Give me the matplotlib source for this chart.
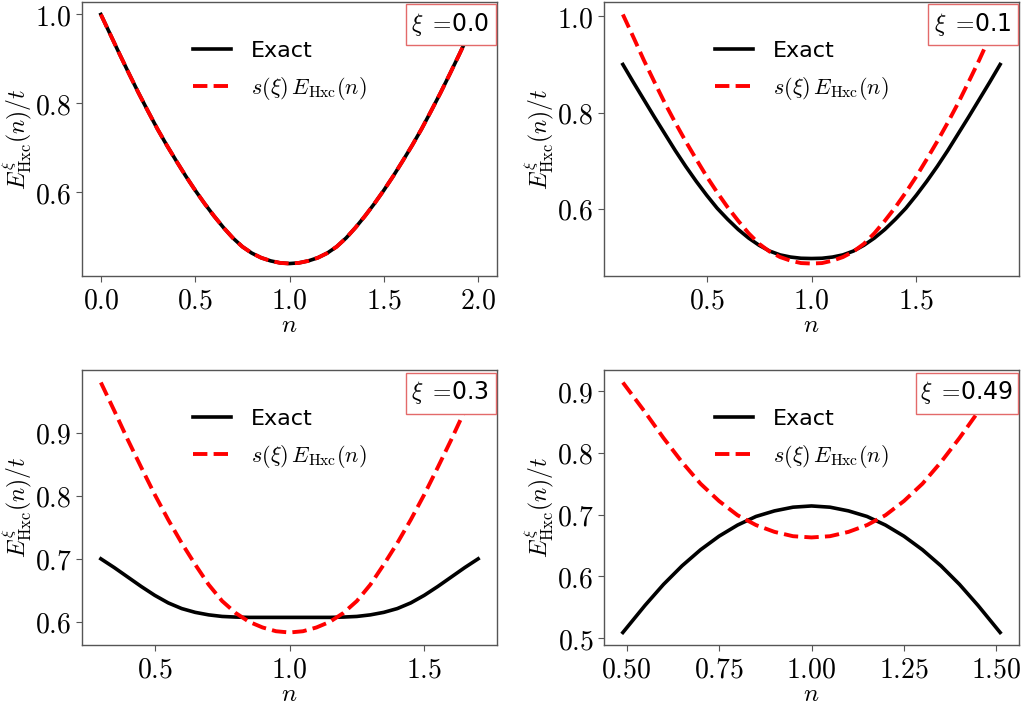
import matplotlib
matplotlib.use('Agg')
import matplotlib.pyplot as plt
from matplotlib.ticker import FormatStrFormatter
from matplotlib.patches import Rectangle

plt.rcParams['mathtext.fontset'] = 'cm'
plt.rcParams['font.family'] = 'DejaVu Sans'

# xi = 0.0 (exact and scaled curves coincide)
n_00 = [0.00, 0.05, 0.10, 0.15, 0.20, 0.25, 0.30, 0.35, 0.40, 0.45, 0.50,
        0.55, 0.60, 0.65, 0.70, 0.75, 0.80, 0.85, 0.90, 0.95, 1.00,
        1.05, 1.10, 1.15, 1.20, 1.25, 1.30, 1.35, 1.40, 1.45, 1.50,
        1.55, 1.60, 1.65, 1.70, 1.75, 1.80, 1.85, 1.90, 1.95, 2.00]
exact_00 = [1.000, 0.955, 0.910, 0.866, 0.823, 0.782, 0.742, 0.705, 0.670, 0.636, 0.604,
            0.574, 0.546, 0.520, 0.4965, 0.477, 0.4625, 0.452, 0.445, 0.4405, 0.439,
            0.4405, 0.445, 0.452, 0.4625, 0.477, 0.4965, 0.520, 0.546, 0.574, 0.604,
            0.636, 0.670, 0.705, 0.742, 0.782, 0.823, 0.866, 0.910, 0.955, 1.000]
scaled_00 = [1.000, 0.955, 0.910, 0.866, 0.823, 0.782, 0.742, 0.705, 0.670, 0.636, 0.604,
             0.574, 0.546, 0.520, 0.4965, 0.477, 0.4625, 0.452, 0.445, 0.4405, 0.439,
             0.4405, 0.445, 0.452, 0.4625, 0.477, 0.4965, 0.520, 0.546, 0.574, 0.604,
             0.636, 0.670, 0.705, 0.742, 0.782, 0.823, 0.866, 0.910, 0.955, 1.000]

# xi = 0.1
n_01 = [0.10, 0.15, 0.20, 0.25, 0.30, 0.35, 0.40, 0.45, 0.50, 0.55,
        0.60, 0.65, 0.70, 0.75, 0.80, 0.85, 0.90, 0.95, 1.00,
        1.05, 1.10, 1.15, 1.20, 1.25, 1.30, 1.35, 1.40, 1.45,
        1.50, 1.55, 1.60, 1.65, 1.70, 1.75, 1.80, 1.85, 1.90]
exact_01 = [0.900, 0.863, 0.827, 0.791, 0.756, 0.721, 0.688, 0.657, 0.628, 0.601,
            0.578, 0.557, 0.539, 0.524, 0.512, 0.504, 0.4995, 0.497, 0.4965,
            0.497, 0.4995, 0.504, 0.512, 0.524, 0.539, 0.557, 0.578, 0.601,
            0.628, 0.657, 0.688, 0.721, 0.756, 0.791, 0.827, 0.863, 0.900]
scaled_01 = [1.004, 0.957, 0.909, 0.864, 0.820, 0.779, 0.740, 0.703, 0.667, 0.634,
             0.603, 0.575, 0.549, 0.527, 0.511, 0.4995, 0.492, 0.487, 0.486,
             0.487, 0.492, 0.4995, 0.511, 0.527, 0.549, 0.575, 0.603, 0.634,
             0.667, 0.703, 0.740, 0.779, 0.820, 0.864, 0.909, 0.957, 1.004]

# xi = 0.3
n_03 = [0.30, 0.35, 0.40, 0.45, 0.50, 0.55, 0.60, 0.65, 0.70, 0.75, 0.80, 0.85, 0.90, 0.95, 1.00,
        1.05, 1.10, 1.15, 1.20, 1.25, 1.30, 1.35, 1.40, 1.45, 1.50, 1.55, 1.60, 1.65, 1.70]
exact_03 = [0.700, 0.686, 0.671, 0.656, 0.642, 0.630, 0.621, 0.615, 0.611, 0.6085, 0.6075, 0.607, 0.607, 0.607, 0.607,
            0.607, 0.607, 0.607, 0.6075, 0.6085, 0.611, 0.615, 0.621, 0.630, 0.642, 0.656, 0.671, 0.686, 0.700]
scaled_03 = [0.980, 0.935, 0.889, 0.845, 0.802, 0.762, 0.725, 0.691, 0.659, 0.633, 0.614, 0.600, 0.591, 0.585, 0.583,
             0.585, 0.591, 0.600, 0.614, 0.633, 0.659, 0.691, 0.725, 0.762, 0.802, 0.845, 0.889, 0.935, 0.980]

# xi = 0.49
n_049 = [0.49, 0.55, 0.60, 0.65, 0.70, 0.75, 0.80, 0.85, 0.90, 0.95, 1.00,
         1.05, 1.10, 1.15, 1.20, 1.25, 1.30, 1.35, 1.40, 1.45, 1.51]
exact_049 = [0.509, 0.553, 0.587, 0.617, 0.643, 0.665, 0.683, 0.697, 0.706, 0.712, 0.714,
             0.712, 0.706, 0.697, 0.683, 0.665, 0.643, 0.617, 0.587, 0.553, 0.509]
scaled_049 = [0.914, 0.866, 0.824, 0.785, 0.750, 0.722, 0.699, 0.683, 0.672, 0.665, 0.663,
              0.665, 0.672, 0.683, 0.699, 0.722, 0.750, 0.785, 0.824, 0.866, 0.914]

xi_labels = ['0.0', '0.1', '0.3', '0.49']
n_values = [n_00, n_01, n_03, n_049]
exact_values = [exact_00, exact_01, exact_03, exact_049]
scaled_values = [scaled_00, scaled_01, scaled_03, scaled_049]
x_ticks = [[0.0, 0.5, 1.0, 1.5, 2.0], [0.5, 1.0, 1.5], [0.5, 1.0, 1.5], [0.5, 0.75, 1.0, 1.25, 1.5]]
y_ticks = [[0.6, 0.8, 1.0], [0.6, 0.8, 1.0], [0.6, 0.7, 0.8, 0.9], [0.5, 0.6, 0.7, 0.8, 0.9]]
x_fmt = ['$%.1f$', '$%.1f$', '$%.1f$', '$%.2f$']

W, H = 1024, 707
fig = plt.figure(figsize=(W / 100, H / 100), dpi=100)
boxes = [(82, 2, 497, 276), (604, 2, 1019, 276), (82, 370, 497, 645), (604, 370, 1019, 645)]
tag_w = [90, 90, 90, 102]

for i, (l, t, r, b) in enumerate(boxes):
    ax = fig.add_axes([l / W, 1 - b / H, (r - l) / W, (b - t) / H])
    ax.plot(n_values[i], exact_values[i], color='black', lw=2.6, label='Exact', zorder=2)
    ax.plot(n_values[i], scaled_values[i], color='red', lw=2.8, ls='--',
            label=r'$s(\xi)\,E_{\rm Hxc}(n)$', zorder=3)
    ax.set_xticks(x_ticks[i])
    ax.set_yticks(y_ticks[i])
    ax.xaxis.set_major_formatter(FormatStrFormatter(x_fmt[i]))
    ax.yaxis.set_major_formatter(FormatStrFormatter('$%.1f$'))
    ax.tick_params(labelsize=20, color='#555555', length=4)
    for s in ax.spines.values():
        s.set_color('#555555')
        s.set_linewidth(1.0)
    ax.set_xlabel(r'$n$', fontsize=18, labelpad=-1)
    ax.set_ylabel(r'$E^{\xi}_{\rm Hxc}(n)/t$', fontsize=17, labelpad=0)
    ax.legend(loc='upper center', bbox_to_anchor=(0.476, 0.93), frameon=False, fontsize=16,
              handlelength=1.7, handletextpad=0.9, labelspacing=0.6)

    # xi tag in the upper right corner
    w, h = r - l, b - t
    bw, bh = tag_w[i], 41
    x0, y0 = 1 - (bw + 1.5) / w, 1 - (bh + 2.5) / h
    ax.add_patch(Rectangle((x0, y0), bw / w, bh / h, transform=ax.transAxes,
                           fc='white', ec='#e36a6a', lw=1.0, zorder=4, clip_on=False))
    ax.text(x0 + bw / w / 2, y0 + bh / h / 2, r'$\xi\ =\!$' + xi_labels[i], transform=ax.transAxes,
            ha='center', va='center', fontsize=17, zorder=5)

fig.savefig('out.png', dpi=100)
